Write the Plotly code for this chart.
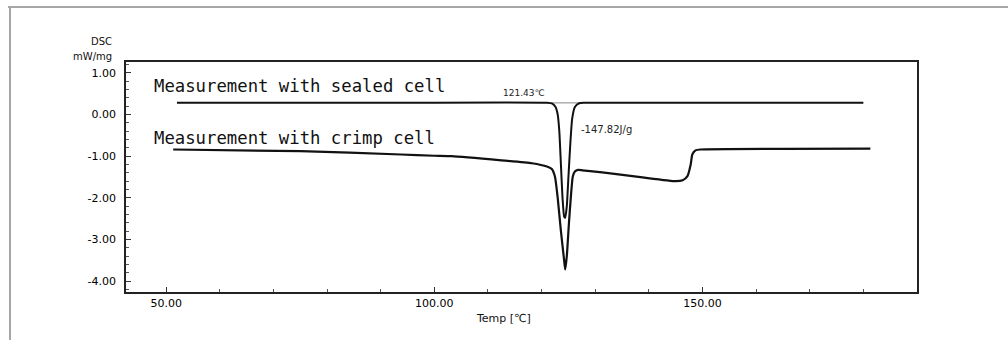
import plotly.graph_objects as go

# ---- data ----
sealed_temp = [52.0, 90.0, 121.0, 122.0, 122.6, 123.0, 123.3, 123.6, 123.9, 124.2, 124.4,
               124.7, 125.0, 125.4, 125.7, 126.2, 127.0, 128.0, 180.0]
sealed_dsc = [0.28, 0.28, 0.28, 0.26, 0.18, 0.0, -0.4, -1.2, -2.0, -2.45, -2.48,
              -2.2, -1.5, -0.6, -0.1, 0.18, 0.27, 0.28, 0.28]

crimp_temp = [51.3, 75.0, 93.8, 100.0, 103.2, 112.5, 118.2, 121.0, 121.9, 122.5, 123.0,
              123.6, 124.2, 124.4, 124.7, 125.1, 125.5, 125.8, 126.2, 126.8, 127.6,
              131.3, 138.8, 145.0, 146.3, 147.2, 147.8, 148.1, 148.7, 149.6, 181.3]
crimp_dsc = [-0.84, -0.88, -0.96, -0.99, -1.0, -1.1, -1.17, -1.25, -1.31, -1.5, -2.0,
             -2.8, -3.5, -3.72, -3.4, -2.6, -1.9, -1.5, -1.37, -1.33, -1.34,
             -1.39, -1.51, -1.6, -1.58, -1.48, -1.2, -0.96, -0.86, -0.84, -0.82]

baseline_temp = [121.7, 127.0]
baseline_dsc = [0.28, 0.28]

x_ticks = [50, 100, 150]
x_ticktext = ["50.00", "100.00", "150.00"]
y_ticks = [1, 0, -1, -2, -3, -4]
y_ticktext = ["1.00", "0.00", "-1.00", "-2.00", "-3.00", "-4.00"]

label_sealed = "Measurement with sealed cell"
label_crimp = "Measurement with crimp cell"
peak_label = "121.43℃"
enthalpy_label = "-147.82J/g"

# plot-area geometry in pixels (page coordinates)
L, R, T, B = 126, 917, 62, 292
W, H = 1008, 340


def px(x):
    return (x - L) / (R - L)


def py(y):
    return (B - y) / (B - T)


fig = go.Figure()
fig.add_trace(go.Scatter(x=baseline_temp, y=baseline_dsc, mode="lines",
                         line=dict(color="#b0b0b0", width=1.5), showlegend=False))
fig.add_trace(go.Scatter(x=sealed_temp, y=sealed_dsc, mode="lines",
                         line=dict(color="#111111", width=2, shape="spline", smoothing=0.5),
                         showlegend=False))
fig.add_trace(go.Scatter(x=crimp_temp, y=crimp_dsc, mode="lines",
                         line=dict(color="#111111", width=2.2, shape="spline", smoothing=0.5),
                         showlegend=False))

tick_font = dict(family="DejaVu Sans", size=11, color="#000000")
fig.update_layout(
    width=W, height=H,
    margin=dict(l=L, r=W - R, t=T, b=H - B),
    paper_bgcolor="white", plot_bgcolor="white",
    xaxis=dict(range=[42.5, 190], tickvals=x_ticks, ticktext=x_ticktext,
               ticks="inside", ticklen=5, tickcolor="#333", tickwidth=1,
               minor=dict(dtick=10, ticks="inside", ticklen=3, tickcolor="#555"),
               showline=True, mirror=True, linecolor="#222", linewidth=1.6,
               showgrid=False, zeroline=False, tickfont=tick_font),
    yaxis=dict(range=[-4.26, 1.26], tickvals=y_ticks, ticktext=y_ticktext,
               ticks="inside", ticklen=5, tickcolor="#333", tickwidth=1,
               minor=dict(dtick=0.2, ticks="inside", ticklen=3, tickcolor="#555"),
               showline=True, mirror=True, linecolor="#222", linewidth=1.6,
               showgrid=False, zeroline=False, tickfont=tick_font,
               ticklabelstandoff=6),
)

mono = dict(family="DejaVu Sans Mono", size=17.3, color="#111")
fig.add_annotation(x=px(152), y=py(86), xref="paper", yref="paper", text=label_sealed,
                   showarrow=False, xanchor="left", yanchor="middle", font=mono)
fig.add_annotation(x=px(152), y=py(138), xref="paper", yref="paper", text=label_crimp,
                   showarrow=False, xanchor="left", yanchor="middle", font=mono)
fig.add_annotation(x=px(524), y=py(93), xref="paper", yref="paper", text=peak_label,
                   showarrow=False, xanchor="center", yanchor="middle",
                   font=dict(family="DejaVu Sans", size=9, color="#222"))
fig.add_annotation(x=px(579), y=py(129), xref="paper", yref="paper", text=enthalpy_label,
                   showarrow=False, xanchor="left", yanchor="middle",
                   font=dict(family="DejaVu Sans", size=10, color="#222"))

# axis titles
small = dict(family="DejaVu Sans", size=10, color="#111")
fig.add_annotation(x=px(114), y=py(41), xref="paper", yref="paper", text="DSC",
                   showarrow=False, xanchor="right", yanchor="middle", font=small)
fig.add_annotation(x=px(114), y=py(57), xref="paper", yref="paper", text="mW/mg",
                   showarrow=False, xanchor="right", yanchor="middle", font=small)
fig.add_annotation(x=px(503), y=py(318), xref="paper", yref="paper", text="Temp [℃]",
                   showarrow=False, xanchor="center", yanchor="middle",
                   font=dict(family="DejaVu Sans", size=11, color="#111"))

# scanned-page frame lines
fig.add_shape(type="line", xref="paper", yref="paper",
              x0=px(8), x1=px(1008), y0=py(7), y1=py(7),
              line=dict(color="#888", width=1.5))
fig.add_shape(type="line", xref="paper", yref="paper",
              x0=px(10), x1=px(10), y0=py(8), y1=py(340),
              line=dict(color="#888", width=1.5))

fig.write_html("out.html", config={"displayModeBar": False},
               post_script="document.body.style.margin='0px';")
